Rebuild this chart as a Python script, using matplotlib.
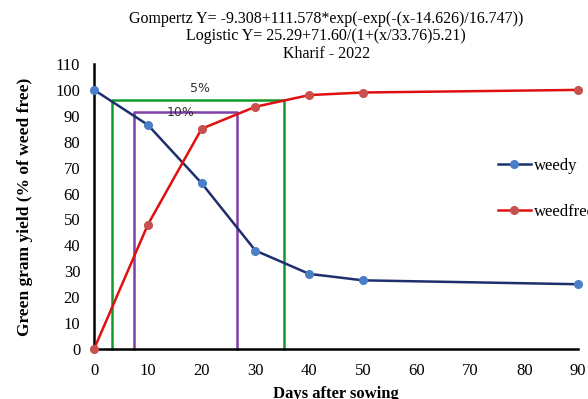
import matplotlib
matplotlib.use("Agg")
import matplotlib.pyplot as plt

days = [0, 10, 20, 30, 40, 50, 90]
weedy = [100, 86.5, 64, 38, 29, 26.5, 25]
weedfree = [0, 48, 85, 93.5, 98, 99, 100]

# critical period boxes: (start, end, yield level)
box5 = (3.3, 35.3, 96)
box10 = (7.5, 26.5, 91.5)

plt.rcParams['font.family'] = ['Liberation Serif', 'DejaVu Serif']

fig = plt.figure(figsize=(5.88, 3.99), dpi=100)
ax = fig.add_axes([0.16, 0.1253, 0.823, 0.7143])

ax.plot(days, weedy, color='#1F2F6E', lw=1.8, marker='o', ms=5.5,
        mfc='#4A7EC7', mec='#4A7EC7', label='weedy', zorder=3)
ax.plot(days, weedfree, color='#E01010', lw=1.8, marker='o', ms=5.5,
        mfc='#C8504D', mec='#C8504D', label='weedfree', zorder=3)

for (x0, x1, yv), c in [(box5, '#0F9A2A'), (box10, '#7F3FA8')]:
    ax.plot([x0, x0, x1, x1], [0, yv, yv, 0], color=c, lw=1.8, zorder=2)

ax.text(19.7, 100.5, '5%', ha='center', va='center', fontsize=9, family='DejaVu Sans', color='#333333')
ax.text(16, 91.3, '10%', ha='center', va='center', fontsize=9, family='DejaVu Sans', color='#333333')

ax.set_xlim(0, 90)
ax.set_ylim(0, 110)
ax.set_xticks(range(0, 91, 10))
ax.set_yticks(range(0, 111, 10))
ax.tick_params(length=0, labelsize=12, pad=10)
for s in ['top', 'right']:
    ax.spines[s].set_visible(False)
for s in ['left', 'bottom']:
    ax.spines[s].set_linewidth(1.8)
for ln in ax.lines:
    ln.set_clip_on(False)

ax.set_xlabel('Days after sowing', fontsize=12, fontweight='bold', labelpad=5)
ax.set_ylabel('Green gram yield (% of weed free)', fontsize=12.5, fontweight='bold', labelpad=16)

fig.text(0.555, 1 - 11 / 399, 'Gompertz Y= -9.308+111.578*exp(-exp(-(x-14.626)/16.747))\n'
         'Logistic Y= 25.29+71.60/(1+(x/33.76)5.21)\nKharif - 2022',
         ha='center', va='top', fontsize=11.5, linespacing=1.12)

fig.legend(loc='upper left', bbox_to_anchor=(0.835, 0.621), frameon=False,
           fontsize=12, labelspacing=1.8, handlelength=2.0, handletextpad=0.2,
           borderaxespad=0)

fig.savefig('out.png', dpi=100)
